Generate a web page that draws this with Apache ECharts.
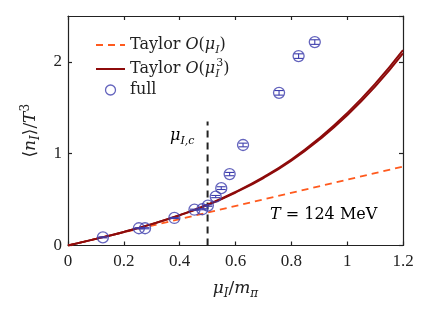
<!DOCTYPE html>
<html>
<head>
<meta charset="utf-8">
<script src="https://cdn.jsdelivr.net/npm/echarts@6/dist/echarts.min.js"></script>
<style>html,body{margin:0;padding:0;background:#fff}#c{width:437px;height:317px}</style>
</head>
<body>
<div id="c"></div>
<script>
// ---- data ----
var fullX = [0.125, 0.254, 0.276, 0.381, 0.453, 0.481, 0.501, 0.529, 0.549, 0.579, 0.627, 0.756, 0.826, 0.884];
var fullY = [0.089, 0.188, 0.188, 0.300, 0.390, 0.395, 0.435, 0.533, 0.625, 0.778, 1.095, 1.663, 2.063, 2.216];
var fullErr = [0.006, 0.006, 0.006, 0.006, 0.006, 0.006, 0.008, 0.012, 0.015, 0.018, 0.02, 0.025, 0.025, 0.025];

var linX = [0, 1.2];
var linY = [0, 0.86];

var cubX = [0, 0.1, 0.2, 0.3, 0.4, 0.5, 0.6, 0.7, 0.8, 0.9, 1.0, 1.1, 1.2];
var cubUpper = [0, 0.072, 0.148, 0.233, 0.331, 0.445, 0.583, 0.745, 0.936, 1.168, 1.442, 1.760, 2.128];
var cubLower = [0, 0.072, 0.148, 0.233, 0.329, 0.441, 0.577, 0.735, 0.924, 1.152, 1.418, 1.730, 2.092];

var critX = [0.5, 0.5];
var critY = [0, 1.35];

var xTicks = ['0', '0.2', '0.4', '0.6', '0.8', '1', '1.2'];
var yTicks = ['0', '1', '2'];

function pairs(xs, ys) { return xs.map(function (x, i) { return [x, ys[i]]; }); }

var FONT = 'Liberation Serif';
var TFONT = 'DejaVu Serif';
var BLUE = '#3d3dac';
var DARKRED = '#8e0b0b';
var ORANGE = '#ff5a1e';
var INK = '#222';

function richSet(fs) {
  var s = Math.round(fs * 0.68);
  return {
    r: { fontFamily: TFONT, fontSize: fs, color: INK, lineHeight: 22 },
    i: { fontFamily: TFONT, fontSize: fs, fontStyle: 'italic', color: INK, lineHeight: 22 },
    sub: { fontFamily: TFONT, fontSize: s, fontStyle: 'italic', color: INK, verticalAlign: 'bottom', lineHeight: 12 },
    subn: { fontFamily: TFONT, fontSize: s, fontStyle: 'italic', color: INK, verticalAlign: 'bottom', lineHeight: 12, width: 1 },
    sup: { fontFamily: TFONT, fontSize: s, color: INK, verticalAlign: 'top', lineHeight: 12 }
  };
}

var chart = echarts.init(document.getElementById('c'), null, { renderer: 'canvas' });

var axisCommon = {
  type: 'value',
  axisLine: { show: true, onZero: false, lineStyle: { color: INK, width: 1.2 } },
  axisTick: { show: true, inside: true, length: 4, lineStyle: { color: INK, width: 1.2 } },
  splitLine: { show: false }
};

var option = {
  animation: false,
  backgroundColor: '#fff',
  grid: { left: 68, right: 34, top: 16, bottom: 71.5, containLabel: false },
  legend: {
    orient: 'vertical',
    left: 90,
    top: 32,
    itemWidth: 29,
    itemHeight: 10,
    itemGap: 2,
    data: [
      { name: 'lin', itemStyle: { opacity: 0 } },
      { name: 'cub', itemStyle: { opacity: 0 } },
      { name: 'full', icon: 'circle', itemStyle: { color: '#fff', borderColor: BLUE, borderWidth: 1.3 } }
    ],
    formatter: function (n) {
      if (n === 'lin') return '{r|Taylor }{i|O}{r|(}{i|μ}{sub|I}{r|)}';
      if (n === 'cub') return '{r|Taylor }{i|O}{r|(}{i|μ}{subn|I}{sup|3}{r|)}';
      return '{r|full}';
    },
    textStyle: { fontFamily: TFONT, fontSize: 16, color: INK, rich: richSet(16) }
  },
  xAxis: [
    Object.assign({}, axisCommon, {
      min: 0, max: 1.2, interval: 0.2, position: 'bottom',
      axisLabel: { fontFamily: FONT, fontSize: 17, color: INK, margin: 8,
        formatter: function (v) { var i = Math.round(v / 0.2); return xTicks[i] !== undefined ? xTicks[i] : ''; } },
      name: '{i|μ}{sub|I}{r|/}{i|m}{sub|π}',
      nameLocation: 'middle',
      nameGap: 32,
      nameTextStyle: { fontFamily: TFONT, fontSize: 17, color: INK, rich: richSet(17) }
    }),
    Object.assign({}, axisCommon, {
      min: 0, max: 1.2, interval: 0.2, position: 'top',
      axisLabel: { show: false }
    })
  ],
  yAxis: [
    Object.assign({}, axisCommon, {
      min: 0, max: 2.5, interval: 1, position: 'left',
      axisLabel: { fontFamily: FONT, fontSize: 17, color: INK, margin: 6, showMaxLabel: false,
        formatter: function (v) { var k = Math.round(v); return Math.abs(v - k) < 1e-6 && yTicks[k] !== undefined ? yTicks[k] : ''; } },
      name: '{r|⟨}{i|n}{sub|I}{r|⟩/}{i|T}{sup|3}',
      nameLocation: 'middle',
      nameGap: 26,
      nameTextStyle: { fontFamily: TFONT, fontSize: 17, color: INK, rich: richSet(17) }
    }),
    Object.assign({}, axisCommon, {
      min: 0, max: 2.5, interval: 1, position: 'right',
      axisLabel: { show: false }
    })
  ],
  series: [
    {
      name: 'crit', type: 'line', data: pairs(critX, critY), symbol: 'none', silent: true,
      lineStyle: { color: INK, width: 2, type: [7, 5] }, z: 1
    },
    {
      name: 'lin', type: 'line', data: pairs(linX, linY), symbol: 'none',
      lineStyle: { color: ORANGE, width: 1.8, type: [7, 5] }, itemStyle: { color: ORANGE }, z: 2
    },
    {
      name: 'cub', type: 'line', data: pairs(cubX, cubUpper), symbol: 'none', smooth: true,
      lineStyle: { color: DARKRED, width: 2 }, itemStyle: { color: DARKRED }, z: 3
    },
    {
      name: 'cub2', type: 'line', data: pairs(cubX, cubLower), symbol: 'none', smooth: true,
      lineStyle: { color: DARKRED, width: 2 }, itemStyle: { color: DARKRED }, z: 3
    },
    {
      name: 'full', type: 'scatter', data: pairs(fullX, fullY), symbol: 'circle', symbolSize: 11,
      itemStyle: { color: 'rgba(255,255,255,0)', borderColor: BLUE, borderWidth: 1.3 }, z: 5
    },
    {
      name: 'err', type: 'custom', z: 6, silent: true,
      data: fullX.map(function (x, i) { return [x, fullY[i], fullErr[i]]; }),
      renderItem: function (params, api) {
        var x = api.value(0), y = api.value(1), e = api.value(2);
        var lo = api.coord([x, y - e]), hi = api.coord([x, y + e]);
        var w = 4.5;
        var st = { stroke: BLUE, lineWidth: 1.1 };
        return { type: 'group', children: [
          { type: 'line', shape: { x1: lo[0], y1: lo[1], x2: hi[0], y2: hi[1] }, style: st },
          { type: 'line', shape: { x1: lo[0] - w, y1: lo[1], x2: lo[0] + w, y2: lo[1] }, style: st },
          { type: 'line', shape: { x1: hi[0] - w, y1: hi[1], x2: hi[0] + w, y2: hi[1] }, style: st }
        ] };
      }
    }
  ],
  graphic: [
    { type: 'text', left: 270, top: 207, style: { rich: richSet(16), text: '{i|T}{r| = 124 MeV}' } },
    { type: 'text', left: 170, top: 128, style: { rich: richSet(16), text: '{i|μ}{sub|I,c}' } }
  ]
};
chart.setOption(option);
</script>
</body>
</html>
